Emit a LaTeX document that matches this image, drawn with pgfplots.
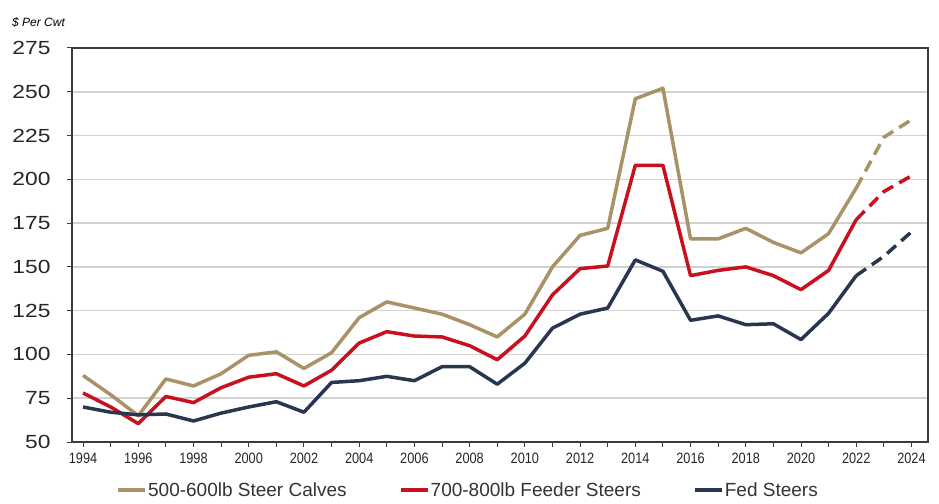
\documentclass[border=0pt]{standalone}
\usepackage{fontspec}
\setmainfont{Liberation Sans}
\usepackage{pgfplots}
\pgfplotsset{compat=1.18}
\definecolor{tanc}{RGB}{168,146,104}
\definecolor{redc}{RGB}{200,16,30}
\definecolor{navyc}{RGB}{40,54,78}
\definecolor{gridc}{RGB}{210,210,210}
\definecolor{axc}{RGB}{60,60,60}
\begin{document}
\begin{tikzpicture}[x=1pt,y=1pt]
\useasboundingbox (0,0) rectangle (939,503);
\node[anchor=west, inner sep=0pt, font=\fontsize{12}{12}\selectfont\itshape] at (12,481) {\$ Per Cwt};
\begin{axis}[
  at={(72pt,61pt)}, anchor=south west,
  scale only axis, width=856pt, height=394pt,
  xmin=1993.6, xmax=2024.6, ymin=50, ymax=275,
  xtick={1994,1996,...,2024},
  minor xtick={1995,1997,...,2023},
  ytick={50,75,...,275},
  tick pos=left, tick align=outside,
  major tick length=5pt, minor tick length=5pt,
  every tick/.style={axc, line width=1pt},
  axis line style={axc, line width=1.5pt},
  ymajorgrids, grid style={gridc, line width=1.5pt},
  xticklabel={\scalebox{0.85}[1]{\pgfmathprintnumber[1000 sep={},assume math mode=true]{\tick}}},
  yticklabel={\scalebox{1.2}[1]{\pgfmathprintnumber[assume math mode=true]{\tick}}},
  xticklabel style={font=\fontsize{15}{15}\selectfont, text=black!85, yshift=-2pt},
  yticklabel style={font=\fontsize{19}{19}\selectfont, text=black!85, xshift=-13pt},
  legend columns=3,
  legend style={at={(0.462,-0.095)}, anchor=north, draw=none, fill=none,
    font=\fontsize{19}{19}\selectfont, text=black!80,
    nodes={inner sep=1pt},
    /tikz/every even column/.append style={column sep=51pt}},
  legend image code/.code={\draw[line width=4pt] (0pt,0pt) -- (27pt,0pt);},
  every axis plot/.append style={line width=3.5pt, line join=round},
]
\addplot[tanc] coordinates {
(1994,88)(1995,77)(1996,65)(1997,86)(1998,82)(1999,89)(2000,99.5)(2001,101.5)
(2002,92)(2003,101)(2004,121)(2005,130)(2006,126.5)(2007,123)(2008,117)(2009,110)
(2010,123)(2011,150)(2012,168)(2013,172)(2014,246)(2015,252)(2016,166)(2017,166)
(2018,172)(2019,164)(2020,158)(2021,169)(2022,195)};
\addlegendentry{500-600lb Steer Calves}
\addplot[redc] coordinates {
(1994,78)(1995,70)(1996,60.5)(1997,76)(1998,72.5)(1999,81)(2000,87)(2001,89)
(2002,82)(2003,91)(2004,106.5)(2005,113)(2006,110.5)(2007,110)(2008,105)(2009,97)
(2010,110.5)(2011,134)(2012,149)(2013,150.5)(2014,208)(2015,208)(2016,145)(2017,148)
(2018,150)(2019,145)(2020,137)(2021,148)(2022,177)};
\addlegendentry{700-800lb Feeder Steers}
\addplot[navyc] coordinates {
(1994,70)(1995,67)(1996,65.5)(1997,66)(1998,62)(1999,66.5)(2000,70)(2001,73)
(2002,67)(2003,84)(2004,85)(2005,87.5)(2006,85)(2007,93)(2008,93)(2009,83)
(2010,95)(2011,115)(2012,123)(2013,126.5)(2014,154)(2015,147.5)(2016,119.5)(2017,122)
(2018,117)(2019,117.5)(2020,108.5)(2021,123.5)(2022,145)};
\addlegendentry{Fed Steers}
\addplot[tanc, dash pattern=on 12pt off 7pt, forget plot] coordinates {(2022,195)(2023,224)(2024,234)};
\addplot[redc, dash pattern=on 12pt off 7pt, forget plot] coordinates {(2022,177)(2023,193)(2024,202)};
\addplot[navyc, dash pattern=on 12pt off 7pt, forget plot] coordinates {(2022,145)(2023,156)(2024,170)};
\end{axis}
\end{tikzpicture}
\end{document}
